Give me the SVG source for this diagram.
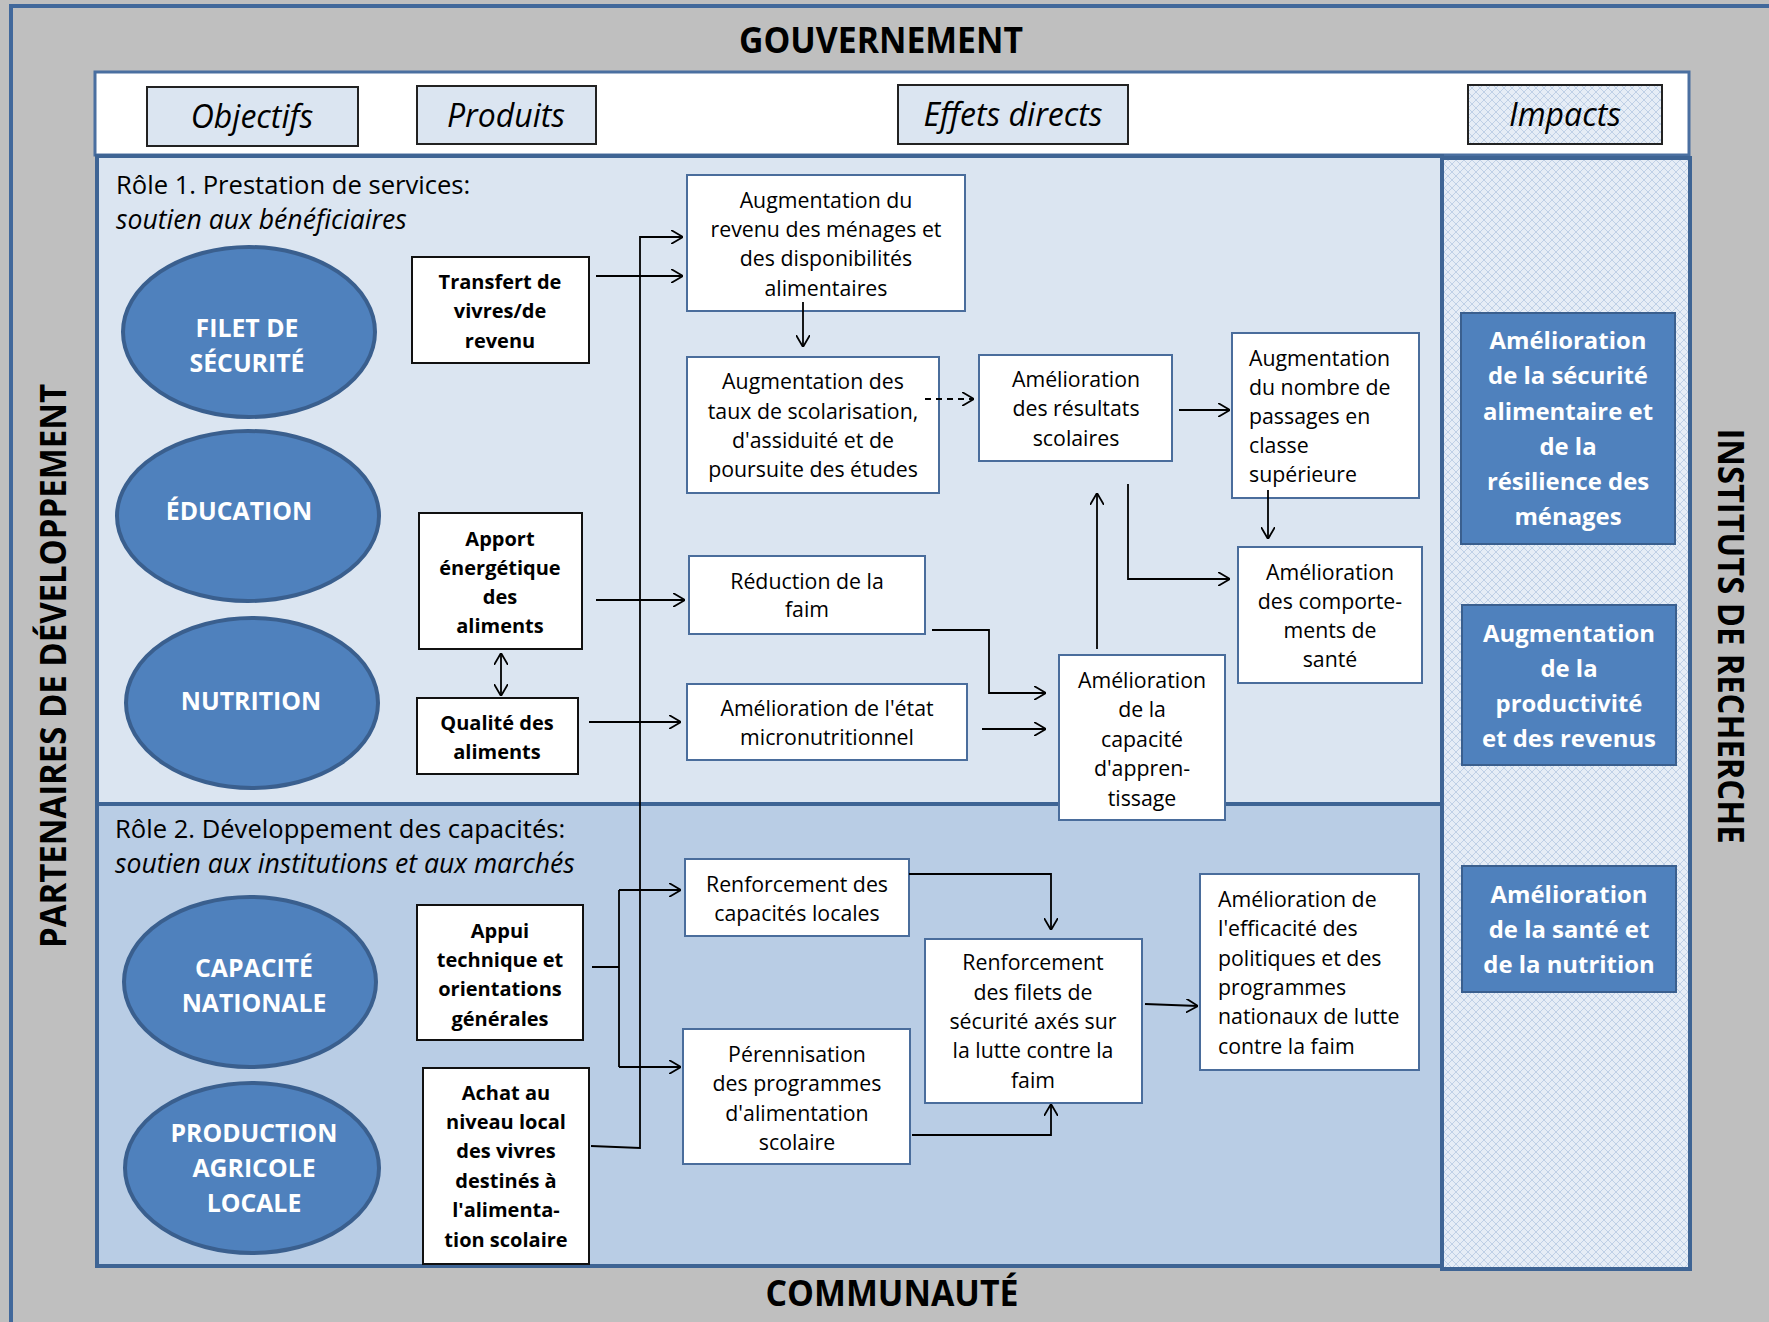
<svg xmlns="http://www.w3.org/2000/svg" width="1769" height="1322" viewBox="0 0 1769 1322">
<defs>
<style>
.t{font-family:"Open Sans","Liberation Sans",sans-serif;font-size:21.3px;fill:#000;}
.t.b{font-size:20px;}
.c{text-anchor:middle;}
.b{font-weight:bold;}
.el{font-family:"Open Sans","Liberation Sans",sans-serif;font-size:24.8px;font-weight:bold;fill:#fff;text-anchor:middle;}
.im{font-family:"Open Sans","Liberation Sans",sans-serif;font-size:23.9px;font-weight:bold;fill:#fff;text-anchor:middle;}
.ttl{font-family:"Open Sans","Liberation Sans",sans-serif;font-weight:bold;font-size:36px;fill:#000;text-anchor:middle;}
.hdr{font-family:"Open Sans","Liberation Sans",sans-serif;font-style:italic;font-size:32px;text-anchor:middle;fill:#000;}
.role{font-family:"Open Sans","Liberation Sans",sans-serif;font-size:25.6px;fill:#000;}
.rit{font-family:"Open Sans","Liberation Sans",sans-serif;font-size:26.6px;font-style:italic;fill:#000;}
.hbox{fill:#dbe5f1;stroke:#222;stroke-width:2;}
.eff{fill:#fff;stroke:#4a6d9c;stroke-width:2;}
.prd{fill:#fff;stroke:#111;stroke-width:2;}
.ell{fill:#4f81bd;stroke:#3a5f8e;stroke-width:4;}
.imp{fill:#4f81bd;stroke:#3a5f8e;stroke-width:2;}
.ln{fill:none;stroke:#000;stroke-width:1.8;}
.arr{marker-end:url(#a);}
</style>
<marker id="a" viewBox="0 0 12 14" refX="12" refY="7" markerWidth="12" markerHeight="14" markerUnits="userSpaceOnUse" orient="auto-start-reverse">
<path d="M0,0 L12,7 L0,14" fill="none" stroke="#000" stroke-width="1.8"/>
</marker>
<pattern id="hatch" width="8" height="8" patternUnits="userSpaceOnUse">
<rect width="8" height="8" fill="#e6edf6"/>
<path d="M0,0 L8,8 M8,0 L0,8" stroke="#bfd0e6" stroke-width="1"/>
</pattern>
</defs>

<g id="background">
<rect x="0" y="0" width="1769" height="1322" fill="#bfbfbf"/>
<path d="M11,1322 V6 H1769" fill="none" stroke="#41689b" stroke-width="4"/>
<rect x="95" y="72" width="1594" height="83" fill="#fff" stroke="#4a6fa0" stroke-width="3"/>
<rect x="97" y="156" width="1345" height="648" fill="#dbe5f1" stroke="#3e6494" stroke-width="4"/>
<rect x="97" y="804" width="1345" height="462" fill="#b9cde5" stroke="#3e6494" stroke-width="4"/>
<rect x="1442" y="158" width="248" height="1111" fill="url(#hatch)" stroke="#3e6494" stroke-width="4"/>
</g>

<g id="labels">
<text class="ttl" x="881" y="53" textLength="284" lengthAdjust="spacingAndGlyphs">GOUVERNEMENT</text>
<text class="ttl" x="892" y="1306" textLength="253" lengthAdjust="spacingAndGlyphs">COMMUNAUTÉ</text>
<text class="ttl" transform="translate(66,666) rotate(-90)" x="0" y="0" textLength="564" lengthAdjust="spacingAndGlyphs">PARTENAIRES DE DÉVELOPPEMENT</text>
<text class="ttl" transform="translate(1718,636) rotate(90)" x="0" y="0" textLength="415" lengthAdjust="spacingAndGlyphs">INSTITUTS DE RECHERCHE</text>
<text class="role" x="116" y="194">Rôle 1. Prestation de services:</text>
<text class="rit" x="116" y="229">soutien aux bénéficiaires</text>
<text class="role" x="115" y="838">Rôle 2. Développement des capacités:</text>
<text class="rit" x="115" y="873">soutien aux institutions et aux marchés</text>
</g>

<g id="header">
<g id="h-objectifs"><rect class="hbox" x="147" y="87" width="211" height="59"/><text class="hdr" x="252" y="128">Objectifs</text></g>
<g id="h-produits"><rect class="hbox" x="417" y="86" width="179" height="58"/><text class="hdr" x="506" y="127">Produits</text></g>
<g id="h-effets"><rect class="hbox" x="898" y="85" width="230" height="59"/><text class="hdr" x="1013" y="126">Effets directs</text></g>
<g id="h-impacts"><rect x="1468" y="85" width="194" height="59" fill="url(#hatch)" stroke="#222" stroke-width="2"/><text class="hdr" x="1565" y="126">Impacts</text></g>
</g>

<g id="objectifs">
<g id="obj-filet"><ellipse class="ell" cx="249" cy="332" rx="126" ry="85"/><text class="el" x="247" y="337">FILET DE</text><text class="el" x="247" y="372">SÉCURITÉ</text></g>
<g id="obj-education"><ellipse class="ell" cx="248" cy="516" rx="131" ry="85"/><text class="el" x="239" y="520">ÉDUCATION</text></g>
<g id="obj-nutrition"><ellipse class="ell" cx="252" cy="703" rx="126" ry="85"/><text class="el" x="251" y="710">NUTRITION</text></g>
<g id="obj-capacite"><ellipse class="ell" cx="250" cy="982" rx="126" ry="85"/><text class="el" x="254" y="977">CAPACITÉ</text><text class="el" x="254" y="1012">NATIONALE</text></g>
<g id="obj-production"><ellipse class="ell" cx="252" cy="1168" rx="127" ry="85"/><text class="el" x="254" y="1142">PRODUCTION</text><text class="el" x="254" y="1177">AGRICOLE</text><text class="el" x="254" y="1212">LOCALE</text></g>
</g>

<g id="produits">
<g id="p-transfert"><rect class="prd" x="412" y="257" width="177" height="106"/><text class="t c b" x="500" y="289">Transfert de</text><text class="t c b" x="500" y="318">vivres/de</text><text class="t c b" x="500" y="348">revenu</text></g>
<g id="p-apport"><rect class="prd" x="419" y="513" width="163" height="136"/><text class="t c b" x="500" y="546">Apport</text><text class="t c b" x="500" y="575">énergétique</text><text class="t c b" x="500" y="604">des</text><text class="t c b" x="500" y="633">aliments</text></g>
<g id="p-qualite"><rect class="prd" x="417" y="698" width="161" height="76"/><text class="t c b" x="497" y="730">Qualité des</text><text class="t c b" x="497" y="759">aliments</text></g>
<g id="p-appui"><rect class="prd" x="417" y="905" width="166" height="135" stroke="#4a6d9c"/><text class="t c b" x="500" y="938">Appui</text><text class="t c b" x="500" y="967">technique et</text><text class="t c b" x="500" y="996">orientations</text><text class="t c b" x="500" y="1026">générales</text></g>
<g id="p-achat"><rect class="prd" x="423" y="1068" width="166" height="196" stroke="#4a6d9c"/><text class="t c b" x="506" y="1100">Achat au</text><text class="t c b" x="506" y="1129">niveau local</text><text class="t c b" x="506" y="1158">des vivres</text><text class="t c b" x="506" y="1188">destinés à</text><text class="t c b" x="506" y="1217">l'alimenta-</text><text class="t c b" x="506" y="1247">tion scolaire</text></g>
</g>

<g id="effets">
<g id="e-revenu"><rect class="eff" x="687" y="175" width="278" height="136"/><text class="t c" x="826" y="208">Augmentation du</text><text class="t c" x="826" y="237">revenu des ménages et</text><text class="t c" x="826" y="266">des disponibilités</text><text class="t c" x="826" y="296">alimentaires</text></g>
<g id="e-taux"><rect class="eff" x="687" y="357" width="252" height="136"/><text class="t c" x="813" y="389">Augmentation des</text><text class="t c" x="813" y="419">taux de scolarisation,</text><text class="t c" x="813" y="448">d'assiduité et de</text><text class="t c" x="813" y="477">poursuite des études</text></g>
<g id="e-resultats"><rect class="eff" x="979" y="355" width="193" height="106"/><text class="t c" x="1076" y="387">Amélioration</text><text class="t c" x="1076" y="416">des résultats</text><text class="t c" x="1076" y="446">scolaires</text></g>
<g id="e-passages"><rect class="eff" x="1232" y="333" width="187" height="165"/><text class="t" x="1249" y="366">Augmentation</text><text class="t" x="1249" y="395">du nombre de</text><text class="t" x="1249" y="424">passages en</text><text class="t" x="1249" y="453">classe</text><text class="t" x="1249" y="482">supérieure</text></g>
<g id="e-reduction"><rect class="eff" x="689" y="556" width="236" height="78"/><text class="t c" x="807" y="589">Réduction de la</text><text class="t c" x="807" y="617">faim</text></g>
<g id="e-micro"><rect class="eff" x="687" y="684" width="280" height="76"/><text class="t c" x="827" y="716">Amélioration de l'état</text><text class="t c" x="827" y="745">micronutritionnel</text></g>
<g id="e-apprentissage"><rect class="eff" x="1059" y="655" width="166" height="165"/><text class="t c" x="1142" y="688">Amélioration</text><text class="t c" x="1142" y="717">de la</text><text class="t c" x="1142" y="747">capacité</text><text class="t c" x="1142" y="776">d'appren-</text><text class="t c" x="1142" y="806">tissage</text></g>
<g id="e-comportements"><rect class="eff" x="1238" y="547" width="184" height="136"/><text class="t c" x="1330" y="580">Amélioration</text><text class="t c" x="1330" y="609">des comporte-</text><text class="t c" x="1330" y="638">ments de</text><text class="t c" x="1330" y="667">santé</text></g>
<g id="e-capacites-locales"><rect class="eff" x="685" y="859" width="224" height="77"/><text class="t c" x="797" y="892">Renforcement des</text><text class="t c" x="797" y="921">capacités locales</text></g>
<g id="e-filets"><rect class="eff" x="925" y="939" width="217" height="164"/><text class="t c" x="1033" y="970">Renforcement</text><text class="t c" x="1033" y="1000">des filets de</text><text class="t c" x="1033" y="1029">sécurité axés sur</text><text class="t c" x="1033" y="1058">la lutte contre la</text><text class="t c" x="1033" y="1088">faim</text></g>
<g id="e-perennisation"><rect class="eff" x="683" y="1029" width="227" height="135"/><text class="t c" x="797" y="1062">Pérennisation</text><text class="t c" x="797" y="1091">des programmes</text><text class="t c" x="797" y="1121">d'alimentation</text><text class="t c" x="797" y="1150">scolaire</text></g>
<g id="e-efficacite"><rect class="eff" x="1200" y="874" width="219" height="196"/><text class="t" x="1218" y="907">Amélioration de</text><text class="t" x="1218" y="936">l'efficacité des</text><text class="t" x="1218" y="966">politiques et des</text><text class="t" x="1218" y="995">programmes</text><text class="t" x="1218" y="1024">nationaux de lutte</text><text class="t" x="1218" y="1054">contre la faim</text></g>
</g>

<g id="impacts">
<g id="i-securite"><rect class="imp" x="1461" y="313" width="214" height="231"/><text class="im" x="1568" y="349">Amélioration</text><text class="im" x="1568" y="384">de la sécurité</text><text class="im" x="1568" y="420">alimentaire et</text><text class="im" x="1568" y="455">de la</text><text class="im" x="1568" y="490">résilience des</text><text class="im" x="1568" y="525">ménages</text></g>
<g id="i-productivite"><rect class="imp" x="1462" y="605" width="214" height="160"/><text class="im" x="1569" y="642">Augmentation</text><text class="im" x="1569" y="677">de la</text><text class="im" x="1569" y="712">productivité</text><text class="im" x="1569" y="747">et des revenus</text></g>
<g id="i-sante"><rect class="imp" x="1462" y="866" width="214" height="126"/><text class="im" x="1569" y="903">Amélioration</text><text class="im" x="1569" y="938">de la santé et</text><text class="im" x="1569" y="973">de la nutrition</text></g>
</g>

<g id="connectors">
<path class="ln arr" d="M591,1146 L640,1148 V237 H683"/>
<path class="ln arr" d="M596,276 H683"/>
<path class="ln arr" d="M803,302 V347"/>
<path class="ln arr" d="M925,399 H974" stroke-dasharray="6,5"/>
<path class="ln arr" d="M1179,410 H1230"/>
<path class="ln arr" d="M1268,490 V539"/>
<path class="ln arr" d="M1097,649 V493"/>
<path class="ln arr" d="M1128,484 V579 H1230"/>
<path class="ln arr" d="M596,600 H685"/>
<path class="ln arr" d="M501,653 V696" marker-start="url(#a)"/>
<path class="ln arr" d="M589,722 H681"/>
<path class="ln arr" d="M932,630 H989 V693 H1046"/>
<path class="ln arr" d="M982,729 H1046"/>
<path class="ln" d="M592,967 H619 M619,890 V1067"/>
<path class="ln arr" d="M619,890 H681"/>
<path class="ln arr" d="M619,1067 H681"/>
<path class="ln arr" d="M909,874 H1051 V930"/>
<path class="ln arr" d="M912,1135 H1051 V1104"/>
<path class="ln arr" d="M1145,1004 L1198,1006"/>
</g>
</svg>
